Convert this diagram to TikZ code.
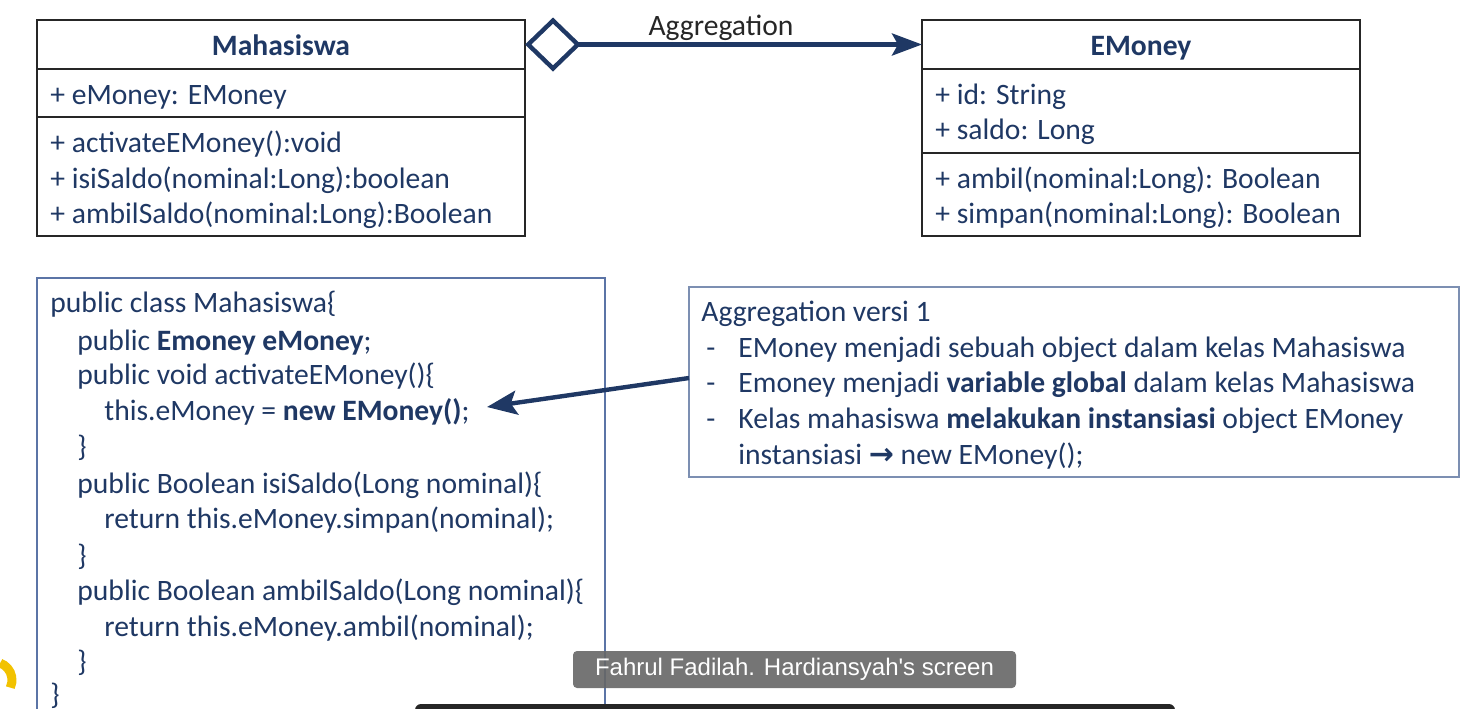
\documentclass[tikz,border=0pt]{standalone}
\usepackage{fontspec}
\setmainfont{Carlito}
\newfontfamily\arrowfont{DejaVu Sans}
\newfontfamily\screenfont{Liberation Sans}
\usepackage{xcolor}
\usetikzlibrary{arrows.meta,positioning}

\definecolor{navy}{HTML}{1F3864}
\definecolor{umlgray}{HTML}{262626}
\definecolor{codeblue}{HTML}{5B74A6}
\definecolor{noteblue}{HTML}{7C8FB2}
\definecolor{screengray}{HTML}{666666}
\definecolor{logoyellow}{HTML}{F2C200}

\tikzset{
  txt/.style={anchor=base west, inner sep=0pt, text=navy, font=\fontsize{14.8}{17}\selectfont},
  classhead/.style={draw=umlgray, line width=0.75pt, anchor=north west, inner sep=0pt, outer sep=0pt,
    minimum height=24.5pt, text height=0pt, text depth=0pt,
    text=navy, font=\fontsize{14.8}{17}\selectfont\bfseries},
  umlline/.style={draw=umlgray, line width=0.75pt},
  panel/.style={line width=0.75pt, anchor=north west, inner sep=0pt, outer sep=0pt},
  aggr/.style={draw=navy, line width=2.2pt,
    arrows={Diamond[open,length=28pt,width=27pt]-Stealth[length=15pt,width=11pt,inset=3pt]}},
  pointer/.style={draw=navy, line width=2.2pt, arrows={-Stealth[length=15pt,width=12pt,inset=3pt]}},
}

\begin{document}
\begin{tikzpicture}[x=0.5pt, y=-0.5pt]
\useasboundingbox (0,0) rectangle (1467,708);
\clip (0,0) rectangle (1467,708);

% class Mahasiswa
\node[classhead, minimum width=244pt] (mhs) at (37,20) {\raisebox{-5.3pt}{Mahasiswa}};
\draw[umlline] (mhs.south west) rectangle (525,117);
\draw[umlline] (37,117) rectangle (525,236);
\node[txt] (mhsAttr) at (50,104) {+ eMoney: EMoney};
\node[txt] (mhsOp1) at (50,152) {+ activateEMoney():void};
\node[txt] (mhsOp2) at (50,188) {+ isiSaldo(nominal:Long):boolean};
\node[txt] (mhsOp3) at (50,223) {+ ambilSaldo(nominal:Long):Boolean};

% class EMoney
\node[classhead, minimum width=219pt] (emy) at (922,20) {\raisebox{-5.3pt}{EMoney}};
\draw[umlline] (emy.south west) rectangle (1360,153);
\draw[umlline] (922,153) rectangle (1360,236);
\node[txt] (emyAttr1) at (935,104) {+ id: String};
\node[txt] (emyAttr2) at (935,139) {+ saldo: Long};
\node[txt] (emyOp1) at (935,188) {+ ambil(nominal:Long): Boolean};
\node[txt] (emyOp2) at (935,223) {+ simpan(nominal:Long): Boolean};

% aggregation
\draw[aggr] (mhs.east) -- (emy.west);
\node[anchor=base, inner sep=0pt, text=umlgray, font=\fontsize{14.8}{17}\selectfont] (aggLbl) at (721,35) {Aggregation};

% code of class Mahasiswa
\node[panel, draw=codeblue, minimum width=284pt, minimum height=222pt] (code) at (37,278) {};
\node[txt] (c1) at (50,312) {public class Mahasiswa\{};
\node[txt] (c2) at (77,350) {public \textbf{Emoney eMoney};};
\node[txt] (c3) at (77,384) {public void activateEMoney()\{};
\node[txt] (c4) at (104,420) {this.eMoney = \textbf{new EMoney()};};
\node[txt] (c5) at (77,456) {\}};
\node[txt] (c6) at (77,493) {public Boolean isiSaldo(Long nominal)\{};
\node[txt] (c7) at (104,528) {return this.eMoney.simpan(nominal);};
\node[txt] (c8) at (77,565) {\}};
\node[txt] (c9) at (77,600) {public Boolean ambilSaldo(Long nominal)\{};
\node[txt] (c10) at (104,636) {return this.eMoney.ambil(nominal);};
\node[txt] (c11) at (77,671) {\}};
\node[txt] (c12) at (50,704) {\}};

% note
\node[panel, draw=noteblue, minimum width=385pt, minimum height=95pt] (note) at (689,287) {};
\node[txt] (n0) at (701,321) {Aggregation versi 1};
\node[txt] (d1) at (706,357) {-};
\node[txt] (n1) at (738,357) {EMoney menjadi sebuah object dalam kelas Mahasiswa};
\node[txt] (d2) at (706,392) {-};
\node[txt] (n2) at (738,392) {Emoney menjadi \textbf{variable global} dalam kelas Mahasiswa};
\node[txt] (d3) at (706,428) {-};
\node[txt] (n3) at (738,428) {Kelas mahasiswa \textbf{melakukan instansiasi} object EMoney};
\node[txt] (n4) at (738,464) {instansiasi {\arrowfont\bfseries\fontsize{15}{17}\selectfont →} new EMoney();};

\coordinate (newObj) at (487,407);
\draw[pointer] ([yshift=2pt]note.west) -- (newObj);

% screen share overlay
\node[panel, fill=screengray, fill opacity=0.9, text opacity=1, rounded corners=2pt,
  minimum width=221.5pt, minimum height=18.5pt, text=white,
  font=\screenfont\fontsize{12}{14}\selectfont] (screen) at (573,651) {Fahrul Fadilah. Hardiansyah's screen};
\fill[black!85, rounded corners=3pt] (415,704) rectangle (1175,716);
\draw[logoyellow, line width=4.5pt] ([shift={(-6,680)}]-70:18) arc (-70:25:18);
\end{tikzpicture}
\end{document}
